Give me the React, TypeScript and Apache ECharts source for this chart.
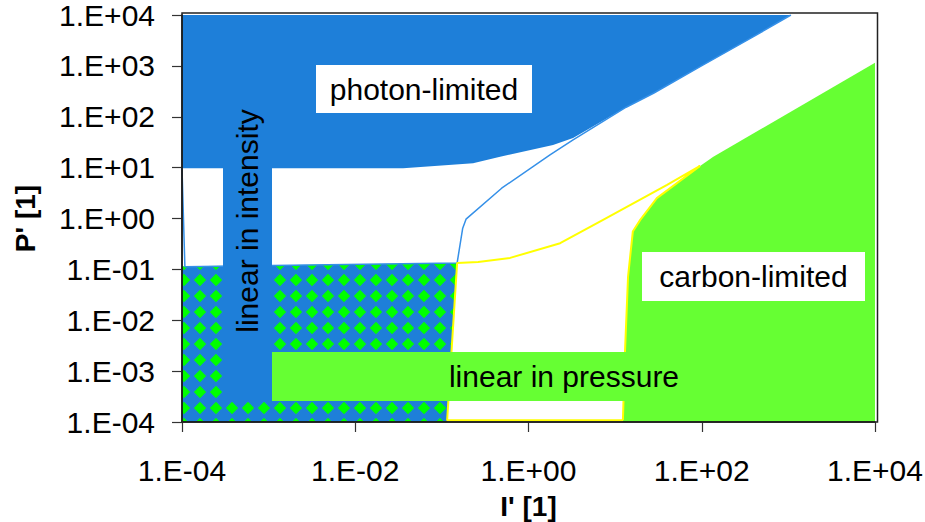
import React, { useEffect, useRef } from "react";
import * as echarts from "echarts";

// ---- axes ----
const I_MIN = 1e-4;
const I_MAX = 1e4;
const P_MIN = 1e-4;
const P_MAX = 1e4;
const xTickLabels = ["1.E-04", "1.E-02", "1.E+00", "1.E+02", "1.E+04"];
const yTickLabels = ["1.E-04", "1.E-03", "1.E-02", "1.E-01", "1.E+00", "1.E+01", "1.E+02", "1.E+03", "1.E+04"];

// ---- photon-limited region: lower boundary (I', P') ----
const photonEdgeI = [1e-4, 0.0357, 0.229, 0.47, 1.92, 3.27, 13.4, 27.7, 95.7, 395, 1070];
const photonEdgeP = [9.7, 9.7, 12.2, 16.4, 27.9, 38.4, 154, 290, 964, 3750, 1e4];

// ---- carbon-limited region: left/upper boundary ----
const carbonEdgeI = [12.3, 13.0, 14.1, 16.0, 19.5, 30.3, 95.7, 136, 1e4];
const carbonEdgeP = [1e-4, 0.00243, 0.0723, 0.553, 0.94, 2.51, 10.8, 16.4, 1156];

// ---- overlap (linear in both) region ----
const overlapI = [1e-4, 0.15, 0.115, 1e-4];
const overlapP = [0.115, 0.134, 1e-4, 1e-4];

// ---- thin blue boundary line ----
const photonLineI = [1e-4, 1.08e-4, 0.15, 0.174, 0.19, 0.49, 1.77, 3.27, 13.4, 27.7, 95.7, 395, 1070];
const photonLineP = [9.7, 0.112, 0.134, 0.645, 0.97, 3.94, 17.8, 35, 154, 290, 964, 3750, 1e4];

// ---- thin yellow boundary line ----
const carbonLineI = [12.3, 0.115, 0.15, 0.262, 0.613, 2.32, 7.26, 39.8, 95.7, 30.3, 19.5, 16.0, 14.1, 13.0, 12.3];
const carbonLineP = [1.08e-4, 1.08e-4, 0.134, 0.14, 0.168, 0.327, 0.94, 4.57, 10.8, 2.51, 0.94, 0.553, 0.0723, 0.00243, 1.08e-4];

const FONT = "'Liberation Sans', Arial, Helvetica, sans-serif";
const BLUE = "#1E7FD9";
const GREEN = "#66FF33";
const DIAMOND = "#00FF00";
const YELLOW = "#FFFF00";
const LINE_BLUE = "#3590E8";

function zip(a: number[], b: number[]) {
  return a.map((v, i) => [v, b[i]]);
}

function polygonSeries(points: number[][], fill: any, z: number) {
  return {
    type: "custom",
    coordinateSystem: "cartesian2d",
    silent: true,
    clip: true,
    z,
    data: [[1, 1]],
    renderItem: (_params: any, api: any) => ({
      type: "polygon",
      shape: { points: points.map((p) => api.coord(p)) },
      style: { fill },
    }),
  };
}

function lineSeries(points: number[][], color: string, width: number, z: number) {
  return {
    type: "line",
    data: points,
    showSymbol: false,
    symbol: "none",
    silent: true,
    z,
    lineStyle: { color, width },
  };
}

function makeFormatter(labels: string[], step: number, minVal: number) {
  return (v: number) => {
    const e = Math.round(Math.log10(v));
    const idx = Math.round((e - Math.round(Math.log10(minVal))) / step);
    return labels[idx] ?? "";
  };
}

function makePattern() {
  const c = document.createElement("canvas");
  c.width = 16;
  c.height = 16;
  const ctx = c.getContext("2d")!;
  ctx.fillStyle = BLUE;
  ctx.fillRect(0, 0, 16, 16);
  ctx.fillStyle = DIAMOND;
  ctx.beginPath();
  ctx.moveTo(8, 1.8);
  ctx.lineTo(14.2, 8);
  ctx.lineTo(8, 14.2);
  ctx.lineTo(1.8, 8);
  ctx.closePath();
  ctx.fill();
  return { image: c, repeat: "repeat", imageWidth: 16, imageHeight: 16, x: 9, y: 14 };
}

function labelBox(x: number, y: number, w: number, h: number, fill: string, text: string, rotate = false) {
  return [
    { type: "rect", z: 20, shape: { x, y, width: w, height: h }, style: { fill } },
    {
      type: "text",
      z: 21,
      x: x + w / 2,
      y: y + h / 2,
      rotation: rotate ? Math.PI / 2 : 0,
      style: {
        text,
        fill: "#000",
        fontSize: 30,
        fontFamily: FONT,
        align: "center",
        verticalAlign: "middle",
        textAlign: "center",
        textVerticalAlign: "middle",
      },
    },
  ];
}

export default function App() {
  const ref = useRef<HTMLDivElement>(null);

  useEffect(() => {
    const chart = echarts.init(ref.current!, null, { renderer: "svg" });

    const photonPoly = [[I_MIN, P_MAX], ...zip(photonEdgeI, photonEdgeP)];
    const carbonPoly = [...zip(carbonEdgeI, carbonEdgeP), [I_MAX, P_MIN]];
    const overlapPoly = zip(overlapI, overlapP);

    const option: any = {
      animation: false,
      grid: { left: 182, right: 50, top: 15, bottom: 100, outerBoundsMode: "none" },
      xAxis: {
        type: "log",
        logBase: 10,
        min: I_MIN,
        max: I_MAX,
        interval: 2,
        splitNumber: 4,
        z: 10,
        axisLine: { show: true, lineStyle: { color: "#000", width: 1.5 } },
        axisTick: { show: true, length: 10, lineStyle: { color: "#333", width: 1.2 } },
        axisLabel: {
          fontSize: 30,
          color: "#000",
          fontFamily: FONT,
          margin: 33,
          formatter: makeFormatter(xTickLabels, 2, I_MIN),
        },
        splitLine: { show: false },
        minorTick: { show: false },
        name: "I' [1]",
        nameLocation: "middle",
        nameGap: 70,
        nameTextStyle: { fontSize: 28, fontWeight: "bold", color: "#000", fontFamily: FONT },
      },
      yAxis: {
        type: "log",
        logBase: 10,
        min: P_MIN,
        max: P_MAX,
        interval: 1,
        splitNumber: 8,
        z: 10,
        axisLine: { show: true, lineStyle: { color: "#000", width: 1.5 } },
        axisTick: { show: true, length: 10, lineStyle: { color: "#333", width: 1.2 } },
        axisLabel: {
          fontSize: 30,
          color: "#000",
          fontFamily: FONT,
          margin: 27,
          formatter: makeFormatter(yTickLabels, 1, P_MIN),
        },
        splitLine: { show: false },
        name: "P' [1]",
        nameLocation: "middle",
        nameGap: 143,
        nameRotate: 90,
        nameTextStyle: { fontSize: 28, fontWeight: "bold", color: "#000", fontFamily: FONT },
      },
      series: [
        polygonSeries(photonPoly, BLUE, 1),
        polygonSeries(carbonPoly, GREEN, 1),
        polygonSeries(overlapPoly, makePattern(), 2),
        lineSeries(zip(photonLineI, photonLineP), LINE_BLUE, 1.5, 3),
        lineSeries(zip(carbonLineI, carbonLineP), YELLOW, 2, 3),
      ],
      graphic: [
        {
          type: "rect",
          z: 15,
          silent: true,
          shape: { x: 182, y: 13, width: 695.5, height: 409 },
          style: { fill: "rgba(0,0,0,0)", stroke: "#222", lineWidth: 1.5 },
        },
        ...labelBox(316, 65, 216, 48, "#FFFFFF", "photon-limited"),
        ...labelBox(642, 252, 223, 49, "#FFFFFF", "carbon-limited"),
        ...labelBox(223, 40, 49, 362, BLUE, "linear in intensity", true),
        ...labelBox(272, 352, 584, 49, GREEN, "linear in pressure"),
      ],
    };

    chart.setOption(option);
    return () => chart.dispose();
  }, []);

  return (
    <div
      ref={ref}
      style={{ position: "fixed", left: 0, top: 0, width: 925, height: 522, background: "#fff" }}
    />
  );
}
